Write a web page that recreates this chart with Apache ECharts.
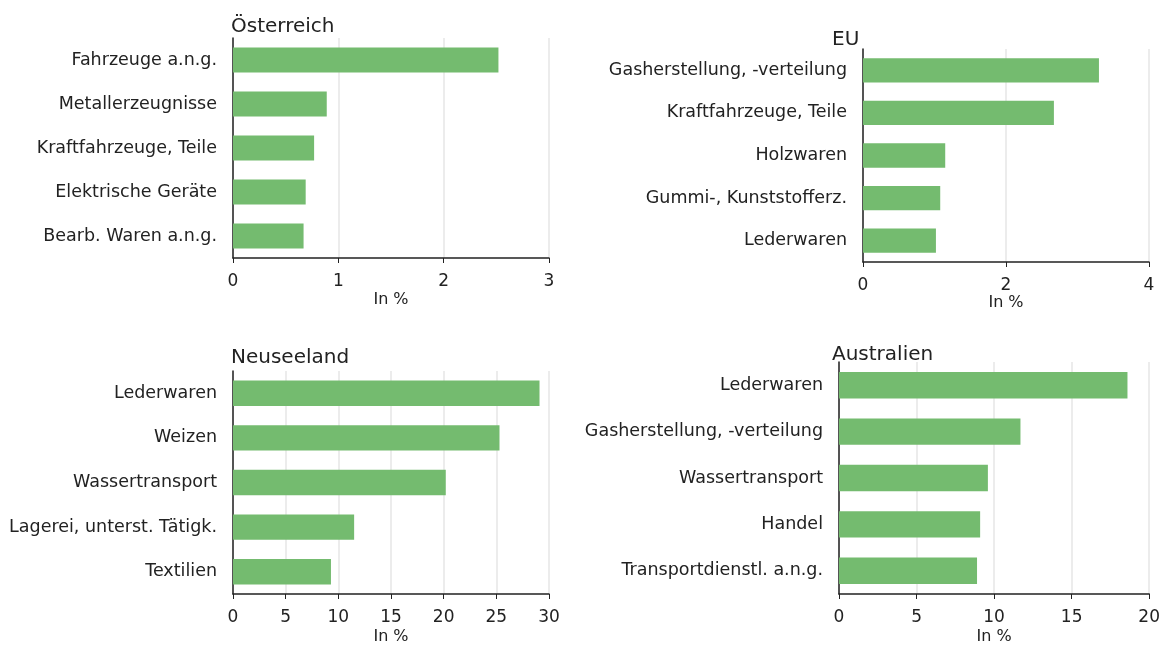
<!DOCTYPE html>
<html>
<head>
<meta charset="utf-8">
<script src="https://cdn.jsdelivr.net/npm/echarts@6/dist/echarts.min.js"></script>
<style>
  html, body { margin: 0; padding: 0; background: #fff; }
  #main { width: 1163px; height: 646px; }
</style>
</head>
<body>
<div id="main"></div>
<script>
  // Daten
  var titles = ['Österreich', 'EU', 'Neuseeland', 'Australien'];
  var catAT = ['Fahrzeuge a.n.g.', 'Metallerzeugnisse', 'Kraftfahrzeuge, Teile', 'Elektrische Geräte', 'Bearb. Waren a.n.g.'];
  var valAT = [2.52, 0.89, 0.77, 0.69, 0.67];
  var catEU = ['Gasherstellung, -verteilung', 'Kraftfahrzeuge, Teile', 'Holzwaren', 'Gummi-, Kunststofferz.', 'Lederwaren'];
  var valEU = [3.30, 2.67, 1.15, 1.08, 1.02];
  var catNZ = ['Lederwaren', 'Weizen', 'Wassertransport', 'Lagerei, unterst. Tätigk.', 'Textilien'];
  var valNZ = [29.1, 25.3, 20.2, 11.5, 9.3];
  var catAU = ['Lederwaren', 'Gasherstellung, -verteilung', 'Wassertransport', 'Handel', 'Transportdienstl. a.n.g.'];
  var valAU = [18.6, 11.7, 9.6, 9.1, 8.9];
  var xMax = [3, 4, 30, 20];
  var xStep = [1, 2, 5, 5];

  var font = 'DejaVu Sans';
  var grids = [
    { left: 233, top: 38, width: 316, height: 220 },
    { left: 863, top: 49, width: 286, height: 213 },
    { left: 233, top: 371, width: 316, height: 223 },
    { left: 839, top: 362, width: 311, height: 233 }
  ];
  var titlePos = [[231, 17], [832, 30], [231, 348], [832, 345]];
  var nameGaps = [34, 30, 35, 35];
  var cats = [catAT, catEU, catNZ, catAU];
  var vals = [valAT, valEU, valNZ, valAU];

  var option = {
    animation: false,
    textStyle: { fontFamily: font },
    title: titles.map(function (t, i) {
      return {
        text: t, left: titlePos[i][0], top: titlePos[i][1], padding: 0,
        textStyle: { fontFamily: font, fontSize: 20, fontWeight: 'normal', color: '#222' }
      };
    }),
    grid: grids,
    xAxis: grids.map(function (g, i) {
      return {
        type: 'value', gridIndex: i, min: 0, max: xMax[i], interval: xStep[i],
        name: 'In %', nameLocation: 'middle', nameGap: nameGaps[i],
        nameTextStyle: { fontFamily: font, fontSize: 16, color: '#222' },
        axisLine: { show: true, lineStyle: { color: '#222', width: 1.5 } },
        axisTick: { show: true, length: 5, lineStyle: { color: '#222' } },
        axisLabel: { fontFamily: font, fontSize: 17, color: '#222', margin: 15 },
        splitLine: { show: true, lineStyle: { color: '#ececec', width: 2 } }
      };
    }),
    yAxis: grids.map(function (g, i) {
      return {
        type: 'category', gridIndex: i, data: cats[i], inverse: true,
        axisLine: { show: true, lineStyle: { color: '#222', width: 1.5 } },
        axisTick: { show: false },
        axisLabel: { fontFamily: font, fontSize: 17.5, color: '#222', margin: 16 },
        splitLine: { show: false }
      };
    }),
    series: grids.map(function (g, i) {
      return {
        type: 'bar', xAxisIndex: i, yAxisIndex: i, data: vals[i],
        barWidth: '57%', itemStyle: { color: '#74bb6f' }
      };
    })
  };

  var myChart = echarts.init(document.getElementById('main'));
  myChart.setOption(option);
</script>
</body>
</html>
